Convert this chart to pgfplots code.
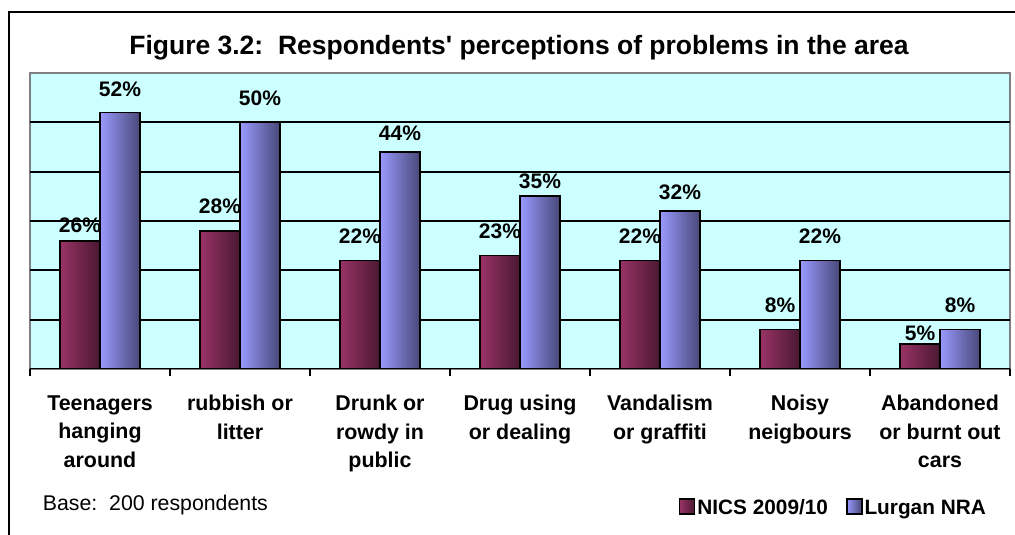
\documentclass[border=0pt]{standalone}
\usepackage{fontspec}
\setmainfont{Liberation Sans}
\usepackage{pgfplots}
\pgfplotsset{compat=1.18}

\definecolor{bgcyan}{HTML}{CCFFFF}
\definecolor{nicsL}{HTML}{993366}
\definecolor{nicsR}{HTML}{4A1831}
\definecolor{lurL}{HTML}{9999FF}
\definecolor{lurR}{HTML}{484878}
\definecolor{plotgray}{HTML}{808080}

% each bar is its own plot so that every bar gets its own left-to-right shading
\pgfplotsset{
  nics/.style={draw=black, line width=1.8pt, left color=nicsL, right color=nicsR,
               bar shift=-20pt, forget plot},
  lurgan/.style={draw=black, line width=1.8pt, left color=lurL, right color=lurR,
               bar shift=20pt, forget plot},
  gap/.style={every node near coord/.append style={yshift=#1pt}},
}

\begin{document}
\begin{tikzpicture}
\begin{axis}[
    at={(30pt,166pt)}, anchor=south west,
    scale only axis, width=980pt, height=296pt,
    xmin=-0.5, xmax=6.5, ymin=0, ymax=60,
    ybar=0pt, bar width=40pt,
    axis line style={draw=none},
    axis background/.style={fill=bgcyan, draw=plotgray, line width=1.5pt},
    ytick={10,20,...,50}, yticklabels={}, ytick style={draw=none},
    ymajorgrids, grid style={black, line width=1.8pt},
    xtick={0,...,6},
    xticklabels={Teenagers\\hanging\\around, rubbish or\\litter, Drunk or\\rowdy in\\public,
                 Drug using\\or dealing, Vandalism\\or graffiti, Noisy\\neigbours,
                 Abandoned\\or burnt out\\cars},
    minor xtick={-0.5,0.5,...,6.5},
    major x tick style={draw=none},
    minor x tick style={black, line width=1.8pt},
    tick align=outside, xtick pos=lower, minor tick length=7pt,
    xticklabel style={align=center, font=\bfseries\fontsize{21.4}{28.5}\selectfont,
                      anchor=north, yshift=-22pt, inner sep=0pt},
    /pgf/number format/assume math mode=true,
    nodes near coords={\pgfmathprintnumber{\pgfplotspointmeta}\%},
    every node near coord/.append style={anchor=base,
        font=\bfseries\fontsize{21}{24}\selectfont, text=black},
    legend columns=2,
    legend style={at={(0.9776,-0.4696)}, anchor=east, draw=none, fill=none,
        inner sep=0pt, font=\bfseries\fontsize{20.8}{24}\selectfont,
        /tikz/every even column/.append style={column sep=16pt}},
    legend image code/.code={\draw[#1, line width=1.5pt] (0pt,-6pt) rectangle (15pt,9pt);},
]
% NICS 2009/10
\addplot[nics, gap=8.3]  coordinates {(0,26)};
\addplot[nics, gap=17.7] coordinates {(1,28)};
\addplot[nics, gap=17]   coordinates {(2,22)};
\addplot[nics, gap=16.7] coordinates {(3,23)};
\addplot[nics, gap=17]   coordinates {(4,22)};
\addplot[nics, gap=17.3] coordinates {(5,8)};
\addplot[nics, gap=4.3]  coordinates {(6,5)};
% Lurgan NRA
\addplot[lurgan, gap=16]   coordinates {(0,52)};
\addplot[lurgan, gap=17]   coordinates {(1,50)};
\addplot[lurgan, gap=11.7] coordinates {(2,44)};
\addplot[lurgan, gap=8.3]  coordinates {(3,35)};
\addplot[lurgan, gap=11.7] coordinates {(4,32)};
\addplot[lurgan, gap=17]   coordinates {(5,22)};
\addplot[lurgan, gap=17]   coordinates {(6,8)};

\addlegendimage{draw=black, left color=nicsL, right color=nicsR}
\addlegendentry{NICS 2009/10}
\addlegendimage{draw=black, left color=lurL, right color=lurR}
\addlegendentry{Lurgan NRA}

\draw[black, line width=1.8pt] (rel axis cs:0,0) -- (rel axis cs:1,0);
\end{axis}

\node[anchor=base, font=\bfseries\fontsize{26.5}{30}\selectfont] at (519pt,480.5pt)
    {Figure 3.2:\ \ Respondents\textquotesingle\ perceptions of problems in the area};
\node[anchor=base west, font=\fontsize{21.3}{24}\selectfont, inner sep=0pt] at (42.7pt,24pt)
    {Base:\ \ 200 respondents};
\draw[line width=2pt] (9pt,-2pt) -- (9pt,523pt) -- (1020pt,523pt);

\pgfresetboundingbox
\useasboundingbox (0pt,0pt) rectangle (1015pt,535pt);
\end{tikzpicture}
\end{document}
